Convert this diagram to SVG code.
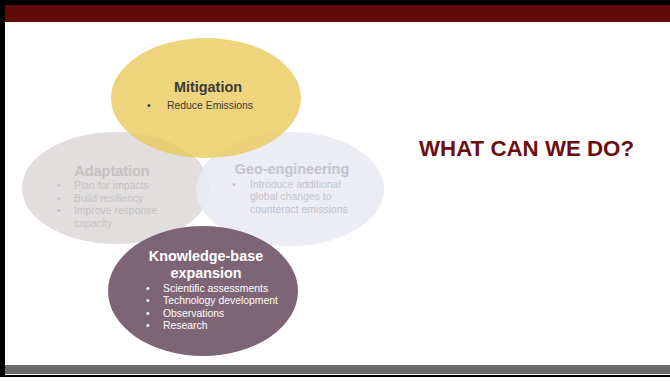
<svg xmlns="http://www.w3.org/2000/svg" width="670" height="381" viewBox="0 0 670 381">
  <style>
    text { font-family: "Liberation Sans", Arial, sans-serif; }
    .title { font-size: 14.4px; font-weight: bold; text-anchor: middle; }
    .item { font-size: 10.4px; }
    .mit { fill: #3a3a3a; }
    .ada { fill: #c6c2c2; }
    .geo { fill: #c2c4ce; }
    .kb { fill: #ffffff; }
  </style>
  <!-- slide frame -->
  <rect x="0" y="0" width="670" height="381" fill="#000"/>
  <rect x="5" y="5" width="665" height="370" fill="#fff"/>
  <rect x="5" y="5" width="665" height="17" fill="#600a0a"/>
  <rect x="5" y="365" width="665" height="9" fill="#6b6b6b"/>
  <rect x="0" y="377" width="670" height="4" fill="#fff"/>

  <g id="adaptation">
    <ellipse cx="116" cy="188" rx="94" ry="56" fill="#dedad9" fill-opacity="0.9"/>
    <text class="title ada" x="112" y="176">Adaptation</text>
    <g class="item ada">
      <text x="57" y="189">•</text><text x="74" y="189">Plan for impacts</text>
      <text x="57" y="202">•</text><text x="74" y="202">Build resiliency</text>
      <text x="57" y="214">•</text><text x="74" y="214">Improve response</text>
      <text x="74" y="227">capacity</text>
    </g>
  </g>

  <g id="geo-engineering">
    <ellipse cx="290" cy="189" rx="94" ry="57" fill="#e9eaf3" fill-opacity="0.9"/>
    <text class="title geo" x="292" y="174">Geo-engineering</text>
    <g class="item geo">
      <text x="232" y="188">•</text><text x="250" y="188">Introduce additional</text>
      <text x="250" y="200">global changes to</text>
      <text x="250" y="213">counteract emissions</text>
    </g>
  </g>

  <g id="mitigation">
    <ellipse cx="206" cy="98" rx="95" ry="60" fill="#eacb5f" fill-opacity="0.82"/>
    <text class="title mit" x="208" y="92">Mitigation</text>
    <g class="item mit">
      <text x="147" y="109">•</text><text x="167" y="109">Reduce Emissions</text>
    </g>
  </g>

  <g id="knowledge-base">
    <ellipse cx="203" cy="291" rx="95" ry="65" fill="#725869" fill-opacity="0.92"/>
    <text class="title kb" x="206" y="261">Knowledge-base</text>
    <text class="title kb" x="206" y="278">expansion</text>
    <g class="item kb">
      <text x="146" y="292">•</text><text x="163" y="292">Scientific assessments</text>
      <text x="146" y="304">•</text><text x="163" y="304">Technology development</text>
      <text x="146" y="317">•</text><text x="163" y="317">Observations</text>
      <text x="146" y="329">•</text><text x="163" y="329">Research</text>
    </g>
  </g>

  <g id="connectors"></g>

  <text x="419" y="156" font-size="22.3" font-weight="bold" fill="#6b0f0f">WHAT CAN WE DO?</text>
</svg>
